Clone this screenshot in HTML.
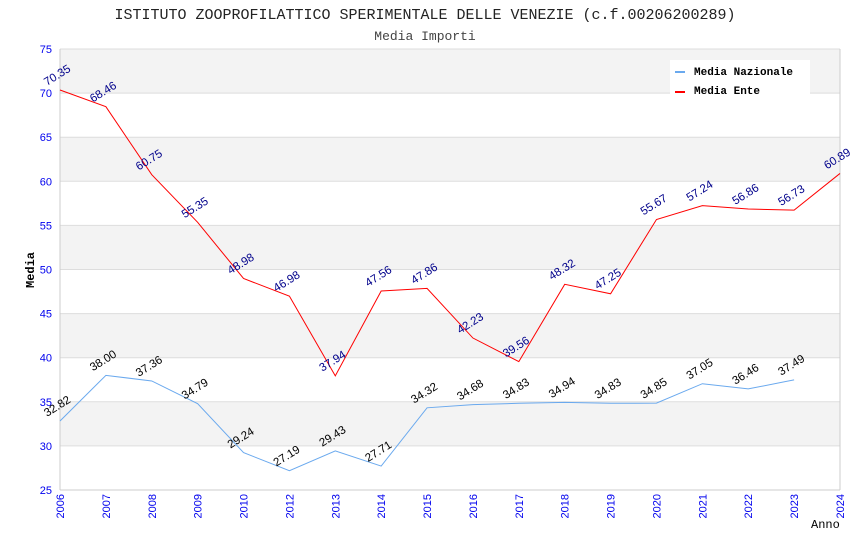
<!DOCTYPE html>
<html><head><meta charset="utf-8"><style>
body{margin:0;background:#fff}
svg text{font-family:"Liberation Sans",sans-serif}
.m{font-family:"Liberation Mono",monospace}
</style></head><body>
<svg id="c" width="850" height="550" xmlns="http://www.w3.org/2000/svg">
<text class="m" x="425" y="19" text-anchor="middle" font-size="15" fill="#222">ISTITUTO ZOOPROFILATTICO SPERIMENTALE DELLE VENEZIE (c.f.00206200289)</text>
<text class="m" x="425" y="40" text-anchor="middle" font-size="13" fill="#444">Media Importi</text>
<g id="bands"></g><g id="axes"></g><g id="series"></g>
<text class="m" x="0" y="0" transform="translate(34,270) rotate(-90)" text-anchor="middle" font-size="12" font-weight="bold" fill="#000">Media</text>
<text class="m" x="811" y="528" font-size="12" fill="#000">Anno</text>
<g>
<rect x="670" y="60" width="140" height="35" fill="#fff"/>
<rect x="675" y="71" width="10" height="2" fill="#6aa9ee"/>
<text class="m" x="694" y="75" font-size="11" font-weight="bold">Media Nazionale</text>
<rect x="675" y="91" width="10" height="2" fill="#f00"/>
<text class="m" x="694" y="94" font-size="11" font-weight="bold">Media Ente</text>
</g>
</svg>
<script>
const years=["2006","2007","2008","2009","2010","2012","2013","2014","2015","2016","2017","2018","2019","2020","2021","2022","2023","2024"];
const ente=[70.35,68.46,60.75,55.35,48.98,46.98,37.94,47.56,47.86,42.23,39.56,48.32,47.25,55.67,57.24,56.86,56.73,60.89];
const naz=[32.82,38.00,37.36,34.79,29.24,27.19,29.43,27.71,34.32,34.68,34.83,34.94,34.83,34.85,37.05,36.46,37.49];
const yTicks=[25,30,35,40,45,50,55,60,65,70,75];
const X0=60,X1=840,Y0=490,Y1=49;
const xs=i=>X0+i*(X1-X0)/(years.length-1);
const ys=v=>Y0-(v-25)/50*(Y0-Y1);
const NS="http://www.w3.org/2000/svg";
function mk(t,a,p){const e=document.createElementNS(NS,t);for(const k in a)e.setAttribute(k,a[k]);p.appendChild(e);return e;}
const bands=document.getElementById('bands'),axes=document.getElementById('axes'),ser=document.getElementById('series');
for(let i=0;i<yTicks.length-1;i++){
 const a=yTicks[i],b=yTicks[i+1];
 const r=mk('rect',{x:X0,y:ys(b),width:X1-X0,height:ys(a)-ys(b),fill:(i%2==1)?'#f3f3f3':'#fff'},bands);
 
 
}
yTicks.forEach(v=>{
 const l=mk('line',{x1:X0,x2:X1,y1:ys(v),y2:ys(v),stroke:'#ddd'},axes);
 
 
 const t=mk('text',{x:X0-8,y:ys(v)+4,'text-anchor':'end','font-size':11,fill:'#0000ee'},axes);t.textContent=v;
 
 
});
mk('line',{x1:X0,x2:X0,y1:Y1,y2:Y0,stroke:'#ccc'},axes);
mk('line',{x1:X1,x2:X1,y1:Y1,y2:Y0,stroke:'#ccc'},axes);
mk('line',{x1:X0,x2:X1,y1:Y0,y2:Y0,stroke:'#ccc'},axes);
years.forEach((y,i)=>{
 const t=mk('text',{transform:`translate(${xs(i)+4},${Y0+4}) rotate(-90)`,'text-anchor':'end','font-size':11,fill:'#0000ee'},axes);t.textContent=y;
 
 
});
function series(vals,color,lab,name){
 const p=mk('polyline',{points:vals.map((v,i)=>xs(i)+','+ys(v)).join(' '),fill:'none',stroke:color,'stroke-width':1},ser);
 
 
 vals.forEach((v,i)=>{
  const t=mk('text',{transform:`translate(${xs(i)-13},${ys(v)-4}) rotate(-32)`,'font-size':11.5,fill:lab},ser);t.textContent=v.toFixed(2);
  
  
 });
}
series(naz,'#6aa9ee','#000','line-media-nazionale');
series(ente,'#f00','#00008b','line-media-ente');
</script>
</body></html>
